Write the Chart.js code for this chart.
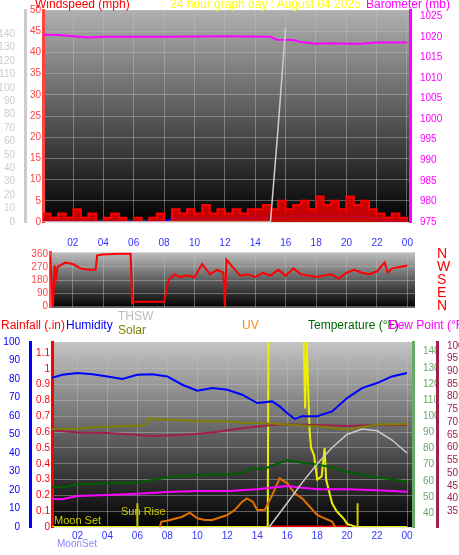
<!DOCTYPE html>
<html><head><meta charset="utf-8">
<script src="https://cdn.jsdelivr.net/npm/chart.js@4"></script>
<style>
body{margin:0;background:#fff;width:459px;height:555px;position:relative;overflow:hidden;font-family:"Liberation Sans",Arial,sans-serif}
canvas{position:absolute;left:0}
.t{position:absolute;font-size:12px;white-space:nowrap;z-index:5}
</style></head><body>
<canvas id="top" width="459" height="240" style="top:0"></canvas>
<canvas id="mid" width="459" height="100" style="top:230px"></canvas>
<canvas id="bot" width="459" height="225" style="top:330px"></canvas>
<div class="t" style="left:35px;top:-3px;color:#f00">Windspeed (mph)</div>
<div class="t" style="left:170px;top:-3px;color:#ff0">24 hour graph day : August 04 2025</div>
<div class="t" style="left:366px;top:-3px;color:#f0f">Barometer (mb)</div>
<div class="t" style="left:1px;top:318px;color:#f00">Rainfall (.in)</div>
<div class="t" style="left:66px;top:318px;color:#00f">Humidity</div>
<div class="t" style="left:118px;top:309px;color:#bbb">THSW</div>
<div class="t" style="left:118px;top:323px;color:#808000">Solar</div>
<div class="t" style="left:242px;top:318px;color:#f80">UV</div>
<div class="t" style="left:308px;top:318px;color:#060">Temperature (°F)</div>
<div class="t" style="left:389px;top:318px;color:#f0f">Dew Point (°F)</div>
<div class="t" style="left:121px;top:505px;color:#cc0;font-size:11px">Sun Rise</div>
<div class="t" style="left:54px;top:514px;color:#cc0;font-size:11px">Moon Set</div>
<div class="t" style="left:57px;top:538px;color:#88f;font-size:10px">MoonSet</div>
<script>
// --- top panel ---
const halfHours = Array.from({length: 49}, (_, i) => i / 2);
const windHigh = [2,1,2,1,3,1,2,0,1,2,1,0,1,0,1,2,0,3,2,3,2,4,2,3,2,3,2,3,3,4,3,5,3,4,5,3,6,4,5,3,6,4,5,3,2,1,2,1,0];
const windAvg = [0.5,0.3,0.4,0.2,0.3,0.2,0.3,0.1,0.2,0.3,0.2,0.1,0.2,0.1,0.2,0.3,0.1,0.8,0.6,0.9,0.7,0.9,0.6,0.8,0.7,0.9,0.8,1,0.9,1.1,0.8,1.3,1,1.4,1.6,1.3,1.5,1.2,1.4,1.1,1.5,1.2,1.3,1,0.5,0.3,0.3,0.2,0];
const baroTimes = [0, 1, 2, 3, 4, 8, 12, 15, 15.4, 16.5, 17, 18, 19, 20, 21, 22, 24];
const baroValues = [1020.5, 1020.4, 1020.1, 1019.8, 1020, 1020, 1020.1, 1020, 1019.3, 1019.2, 1018.7, 1018.3, 1018.4, 1018.3, 1018.3, 1018.6, 1018.6];
const greyTimes = [0, 15, 15.5, 16];
const greyValues = [0, 0, 70, 145];
const hourTicks = [2, 4, 6, 8, 10, 12, 14, 16, 18, 20, 22, 24];
const windTicks = [0,5,10,15,20,25,30,35,40,45,50];
const greyTicks = [0,10,20,30,40,50,60,70,80,90,100,110,120,130,140];
const baroTicks = [975,980,985,990,995,1000,1005,1010,1015,1020,1025];

// --- wind direction ---
const dirTimes = [0.5,0.7,0.8,0.9,1,1.5,2,2.5,3,3.5,3.6,4,5,5.8,5.9,6,7,8,8.3,8.7,9,9.5,10,10.5,11,11.5,11.9,12,12.1,12.5,13,13.5,14,14.5,15,15.5,16,16.5,17,17.5,18,18.5,19,19.5,20,20.5,21,21.5,22,22.5,22.7,23,23.5,24];
const dirValues = [340,0,280,200,270,300,290,260,250,250,350,355,360,360,20,30,30,30,180,220,200,210,200,290,220,250,230,0,320,270,210,220,200,230,210,250,210,260,220,210,200,210,220,190,230,250,230,220,240,300,230,260,270,280];
const dirTicks = [0, 90, 180, 270, 360];
const compass = ["N", "E", "S", "W", "N"];

// --- bottom panel ---
const humTimes = [0,1,2,3,4,5,6,7,8,9,10,11,12,13,14,15,15.5,16,16.5,17,18,19,20,21,22,23,24];
const humValues = [80,82.3,83.2,82.6,81.4,80,82.3,82.6,81.4,76.9,73.7,75.1,74.2,71.5,67,67.9,65.2,61.6,58.4,59.9,59.9,62.5,69.7,75.1,77.8,81.4,83.2];
const solarTimes = [0,2,3,5,6.5,6.8,7,8,10,12,13,15,17,18,19,20,22,24];
const solarValues = [53,53.2,53.9,54.5,55,59,58.4,58.1,57.2,57.2,56.3,55.9,54.8,54.5,53.6,52.7,55.4,55.7];
const tempTimes = [0,1,2,4,6,8,9,10,12,13,13.5,14.5,15.5,16,17,18,19,20,21,22,23,24];
const tempValues = [56.8,55.8,57.9,58.5,58.9,62,63,63.6,64,65,67.5,67.5,71.2,72.8,71.2,70.2,68.2,65.4,64,62,61,59.5];
const dewTimes = [0,1,2,4,6,8,10,12,14,16,17,18,20,22,24];
const dewValues = [40,39.7,41,41.4,41.9,42.6,42.9,42.9,43.6,44.9,44.2,43.6,43.6,43.2,42.7];
const crimsonTimes = [0,2,4,7,9,11,13,15,16,18,20,22,24];
const crimsonValues = [67,65.9,65.7,64.6,65,65.9,67.6,68.9,69.1,68.9,68.5,68.9,68.9];
const uvTimes = [7.5,7.6,8,9,9.5,10,10.5,11,12,12.5,13,13.3,13.7,14,14.5,15,15.5,16,16.5,17,17.3,18,18.5,19,19.2];
const uvValues = [0,0.034,0.04,0.065,0.091,0.055,0.044,0.044,0.076,0.108,0.16,0.181,0.16,0.108,0.108,0.202,0.308,0.276,0.213,0.181,0.15,0.076,0.055,0.034,0];
const yellowTimes = [0,14.7,14.75,17.1,17.2,17.3,17.5,17.6,17.8,18,18.3,18.5,18.6,19,19.3,19.8,20,20.6,24];
const yellowValues = [0,0,1.18,1.18,0.75,1.18,0.6,0.5,0.45,0.3,0.32,0.5,0.3,0.15,0.1,0.05,0.02,0,0];
const arcTimes = [14.8,16,17,18,19,20,21,22,23,24];
const arcValues = [0,13,24,34,43,50,53,52,47,40];
const markerTimes = [6, 20.7];
const markerHeight = 0.15;
const rainTicks = [0,0.1,0.2,0.3,0.4,0.5,0.6,0.7,0.8,0.9,1,1.1];
const humTicks = [0,10,20,30,40,50,60,70,80,90,100];
const tempTicks = [40,50,60,70,80,90,100,110,120,130,140];
const dewTicks = [35,40,45,50,55,60,65,70,75,80,85,90,95,100];

const pts = (xs, ys) => xs.map((x, i) => ({x: x, y: ys[i]}));
const font = {family: "Liberation Sans", size: 10};
const grid = {color: "rgba(190,190,190,0.45)", lineWidth: 1, drawTicks: false};
const fixW = (w) => (s) => { s.width = w; };
const fixH = (h) => (s) => { s.height = h; };
const setTicks = (vals) => (s) => { s.ticks = vals.map(v => ({value: v})); };

const bgPlugin = (top, bottom) => ({
  id: "bg",
  beforeDraw(chart) {
    const a = chart.chartArea, c = chart.ctx;
    const g = c.createLinearGradient(0, a.top, 0, a.bottom);
    g.addColorStop(0, top); g.addColorStop(1, bottom);
    c.save(); c.fillStyle = g; c.fillRect(a.left, a.top, a.right - a.left, a.bottom - a.top); c.restore();
  }
});

const line = (data, color, axis, width) => ({data: data, borderColor: color, yAxisID: axis, borderWidth: width || 2, pointRadius: 0, tension: 0, fill: false});

const hourAxis = (min, max, pos, h, show) => ({
  type: "linear", min: min, max: max, position: pos, afterFit: fixH(h),
  afterBuildTicks: setTicks(hourTicks),
  ticks: {display: show, color: "#33f", font: font, autoSkip: false, maxRotation: 0, callback: v => String(v % 24).padStart(2, "0")},
  grid: grid, border: {display: false}
});

const yAxis = (min, max, pos, w, color, tickVals, extra) => Object.assign({
  min: min, max: max, position: pos, afterFit: fixW(w), afterBuildTicks: setTicks(tickVals),
  ticks: {color: color, font: font, padding: 2, autoSkip: false, callback: v => String(+v.toFixed(1))},
  grid: {display: false}, border: {color: color, width: 3}
}, extra || {});

new Chart(document.getElementById("top"), {
  type: "line",
  data: {datasets: [
    line(pts(greyTimes, greyValues), "#ccc", "grey", 1.5),
    line(pts(baroTimes, baroValues), "#f0f", "baro", 2),
    Object.assign(line(pts(halfHours, windHigh), "#f00", "wind", 2), {stepped: true, fill: "origin", backgroundColor: "rgba(230,0,0,0.85)"}),
    line(pts(halfHours, windAvg), "#00f", "wind", 2),
    line(pts(halfHours, halfHours.map(() => 0.3)), "#080", "wind", 2)
  ]},
  options: {
    animation: false, responsive: false, events: [],
    layout: {padding: {top: 10}},
    plugins: {legend: {display: false}, tooltip: {enabled: false}},
    scales: {
      x: hourAxis(0, 24.2, "bottom", 18, false),
      wind: Object.assign(yAxis(0, 50, "left", 18, "#f44", windTicks), {grid: grid}),
      grey: yAxis(0, 158, "left", 25, "#ccc", greyTicks),
      baro: yAxis(975, 1026.5, "right", 49, "#f0f", baroTicks)
    }
  },
  plugins: [bgPlugin("#b0b0b0", "#000")]
});

new Chart(document.getElementById("mid"), {
  type: "line",
  data: {datasets: [
    line(pts(dirTimes, dirValues), "#f00", "dir", 2),
    line(pts(dirTimes, dirValues), "rgba(0,0,0,0)", "card", 0)
  ]},
  options: {
    animation: false, responsive: false, events: [],
    layout: {padding: {bottom: 20}},
    plugins: {legend: {display: false}, tooltip: {enabled: false}},
    scales: {
      x: hourAxis(0.5, 24.5, "top", 16, true),
      dir: Object.assign(yAxis(-10, 370, "left", 50, "#f44", dirTicks), {grid: grid}),
      card: Object.assign(yAxis(-10, 370, "right", 44, "#f00", dirTicks), {border: {display: false},
        ticks: {color: "#f00", font: {family: "Liberation Sans", size: 14}, padding: 14, autoSkip: false,
          callback: v => compass[dirTicks.indexOf(v)]}})
    }
  },
  plugins: [bgPlugin("#bdbdbd", "#000")]
});

const markers = markerTimes.map(t => line(pts([t, t], [0, markerHeight]), "#cc0", "rain", 2));
new Chart(document.getElementById("bot"), {
  type: "line",
  data: {datasets: [
    line(pts(arcTimes, arcValues), "#ccc", "hum", 1.5),
    line(pts(solarTimes, solarValues), "#808000", "hum", 2),
    line(pts(crimsonTimes, crimsonValues), "#a0204a", "dew", 2),
    line(pts(tempTimes, tempValues), "#006000", "temp", 2),
    line(pts(dewTimes, dewValues), "#f0f", "dew", 2),
    line(pts(humTimes, humValues), "#00f", "hum", 2),
    line(pts(uvTimes, uvValues), "#e07000", "rain", 2),
    line(pts([14.8, 20], [0, 0]), "#f00", "rain", 3),
    ...markers,
    line(pts(yellowTimes, yellowValues), "#ee0", "rain", 2)
  ]},
  options: {
    animation: false, responsive: false, events: [],
    layout: {padding: {top: 12}},
    plugins: {legend: {display: false}, tooltip: {enabled: false}},
    scales: {
      x: hourAxis(0.3, 24.4, "bottom", 28, true),
      rain: Object.assign(yAxis(0, 1.17, "left", 22, "#f00", rainTicks), {grid: grid}),
      hum: yAxis(0, 100, "left", 30, "#00f", humTicks),
      temp: Object.assign(yAxis(31.4, 146, "right", 24, "#6a6", tempTicks), {border: {color: "#6a6", width: 3, dash: [2, 2]}}),
      dew: yAxis(28.8, 101.5, "right", 22, "#a0204a", dewTicks)
    }
  },
  plugins: [bgPlugin("#c4c4c4", "#000")]
});
</script>
</body></html>
